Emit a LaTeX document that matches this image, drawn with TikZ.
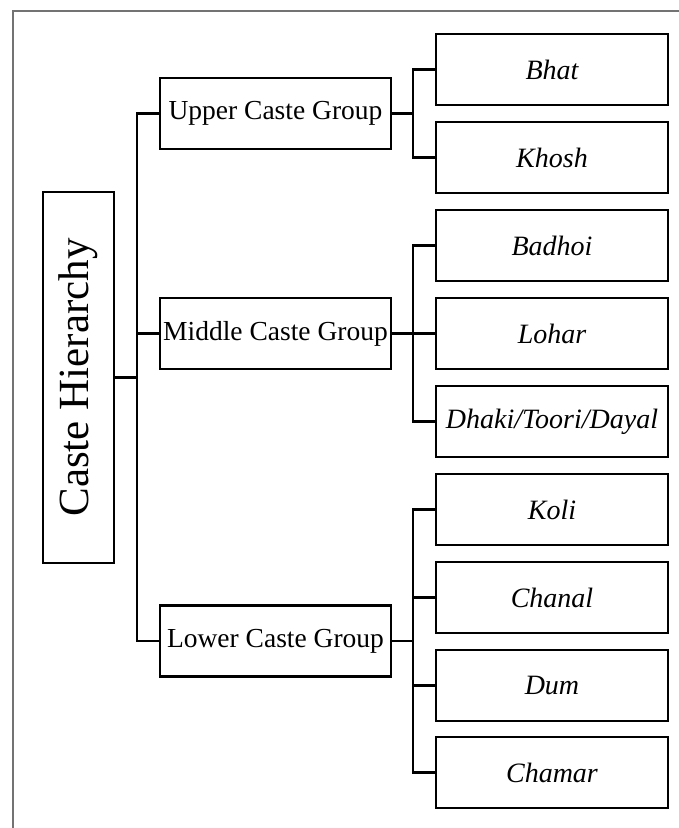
\documentclass[tikz,border=0pt]{standalone}
\usepackage{fontspec}
\setmainfont{Liberation Serif}
\usetikzlibrary{calc}
\tikzset{
	groupbox/.style={draw, line width=2.8pt, minimum width=231pt, minimum height=71pt, inner sep=0pt, font=\fontsize{27.5}{30}\selectfont},
	leafbox/.style={draw, line width=2.8pt, minimum width=232pt, minimum height=71pt, inner sep=0pt, font=\fontsize{28}{30}\selectfont\itshape},
	rootbox/.style={draw, line width=2.8pt, rotate=90, minimum width=371pt, minimum height=71pt, inner sep=0pt, font=\fontsize{43}{46}\selectfont},
	link/.style={line width=2.2pt}
}

\begin{document}
\begin{tikzpicture}[x=1pt, y=-1pt]
			%%%%% START %%%%%
			\useasboundingbox (0, 0) rectangle (679, 828);
			
			\draw[line width=1.6pt, color=black!55] (13, 828) -- (13, 11) -- (679, 11);
			
			\node[rootbox] (root) at (78.5, 377.5) {Caste Hierarchy};
			
			\node[groupbox] (upper) at (275.5, 113.5) {Upper Caste Group};
			\node[groupbox] (middle) at (275.5, 333.5) {Middle Caste Group};
			\node[groupbox] (lower) at (275.5, 641) {Lower Caste Group};
			
			\node[leafbox] (bhat) at (552, 69.5) {Bhat};
			\node[leafbox] (khosh) at (552, 157.5) {Khosh};
			\node[leafbox] (badhoi) at (552, 245.5) {Badhoi};
			\node[leafbox] (lohar) at (552, 333.5) {Lohar};
			\node[leafbox] (dhaki) at (552, 421.5) {Dhaki/Toori/Dayal};
			\node[leafbox] (koli) at (552, 509.5) {Koli};
			\node[leafbox] (chanal) at (552, 597.5) {Chanal};
			\node[leafbox] (dum) at (552, 685.5) {Dum};
			\node[leafbox] (chamar) at (552, 772.5) {Chamar};
			
			\coordinate (spine) at (137, 0);
			\coordinate (subspine) at (413, 0);
			
			% rotated box: its south side faces right
			\draw[link] (root.south) -- (root.south -| spine);
			\draw[link] (upper.west) -- (upper.west -| spine) -- (lower.west -| spine) -- (lower.west);
			\draw[link] (middle.west) -- (middle.west -| spine);
			
			\draw[link] (bhat.west) -- (bhat.west -| subspine) -- (khosh.west -| subspine) -- (khosh.west);
			\draw[link] (upper.east) -- (upper.east -| subspine);
			
			\draw[link] (badhoi.west) -- (badhoi.west -| subspine) -- (dhaki.west -| subspine) -- (dhaki.west);
			\draw[link] (middle.east) -- (lohar.west);
			
			\draw[link] (koli.west) -- (koli.west -| subspine) -- (chamar.west -| subspine) -- (chamar.west);
			\foreach \n in {chanal, dum}
				\draw[link] (\n.west) -- (\n.west -| subspine);
			\draw[link] (lower.east) -- (lower.east -| subspine);
			%%%%% END %%%%%
\end{tikzpicture}
\end{document}
